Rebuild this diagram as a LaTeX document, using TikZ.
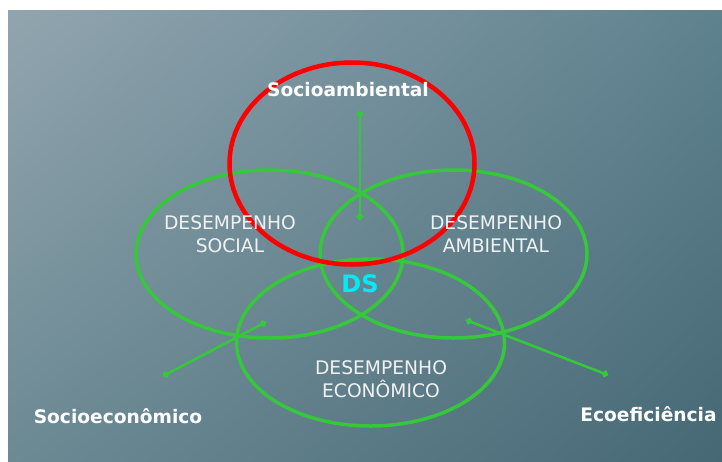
\documentclass[tikz,border=0pt]{standalone}
\usepackage{fontspec}
\setmainfont{DejaVu Sans}
\usetikzlibrary{shapes.geometric, arrows.meta, shadings}

\definecolor{bgul}{RGB}{146,165,175}
\definecolor{bgur}{RGB}{95,130,143}
\definecolor{bgll}{RGB}{108,138,148}
\definecolor{bglr}{RGB}{70,104,117}
\definecolor{vennred}{RGB}{255,0,0}
\definecolor{venngreen}{RGB}{52,200,58}
\definecolor{dscyan}{RGB}{0,235,245}
\definecolor{labelgrey}{RGB}{240,242,242}

\begin{document}
\begin{tikzpicture}[x=1pt, y=-1pt,
					area/.style={ellipse, draw=venngreen, line width=3.5pt, inner sep=0pt},
					focus/.style={ellipse, draw=vennred, line width=4.5pt, inner sep=0pt},
					perf/.style={text=labelgrey, align=center, font=\fontsize{18.7}{23}\selectfont},
					tag/.style={text=white, font=\fontsize{18.6}{22}\selectfont\bfseries},
					link/.style={venngreen, line width=2.6pt, {Circle[length=6.5pt]}-{Circle[length=6.5pt]}}]

	\useasboundingbox (0,0) rectangle (722,461);
	\fill[white] (0,0) rectangle (722,461);
	\shade[upper left=bgul, upper right=bgur, lower left=bgll, lower right=bglr] (8,10) rectangle (722,461);

	% the three areas and the focus
	\node[area, minimum width=267pt, minimum height=168pt] (social) at (269.5,254) {};
	\node[area, minimum width=267pt, minimum height=168pt] (ambiental) at (453.5,254) {};
	\node[area, minimum width=268pt, minimum height=167pt] (economico) at (370.5,342.5) {};
	\node[focus, minimum width=245pt, minimum height=202pt] (socioamb) at (352,163.5) {};

	\node[perf] (lsocial) at (230,234.5) {DESEMPENHO\\SOCIAL};
	\node[perf] (lambiental) at (496,234.5) {DESEMPENHO\\AMBIENTAL};
	\node[perf] (leconomico) at (381,379.5) {DESEMPENHO\\ECONÔMICO};
	\node[text=dscyan, font=\fontsize{24}{28}\selectfont\bfseries] (ds) at (360,284) {DS};

	\node[tag] (tsocioamb) at (348,90) {Socioambiental};
	\node[tag] (tsocioeco) at (118,416) {Socioeconômico};
	\node[tag] (tecoef) at (648.5,414) {Ecoeficiência};

	\coordinate (sa top) at (360,111);
	\coordinate (sa bot) at (360,220);
	\coordinate (se out) at (163,376);
	\coordinate (se in) at (266,322);
	\coordinate (ef in) at (466,320);
	\coordinate (ef out) at (608,375);

	\draw[link] (sa top) -- (sa bot);
	\draw[link] (se out) -- (se in);
	\draw[link] (ef in) -- (ef out);
\end{tikzpicture}
\end{document}
